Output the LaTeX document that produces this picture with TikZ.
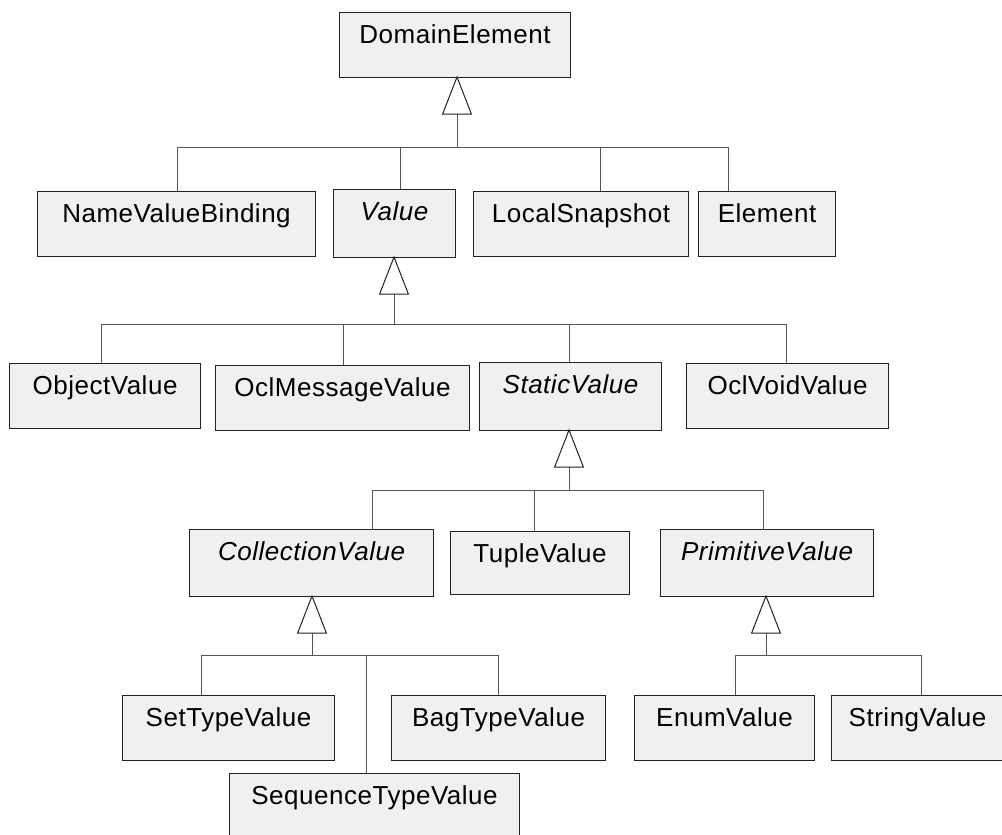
\documentclass[tikz,border=0pt]{standalone}
\usepackage{fontspec}
\setmainfont{Liberation Sans}[LetterSpace=2.0]
\usetikzlibrary{arrows.meta}
\definecolor{boxfill}{HTML}{F0F0F0}
\definecolor{boxline}{HTML}{222222}
\definecolor{connline}{HTML}{555555}
\tikzset{
  umlbox/.style={draw=boxline, line width=1.1pt, fill=boxfill, anchor=north west,
    inner sep=0pt, text height=31pt, text depth=34pt, align=center,
    font=\fontsize{26}{30}\selectfont},
  abstract/.style={font=\fontsize{26}{30}\selectfont\itshape},
  conn/.style={draw=connline, line width=1pt},
  gen/.style={draw=connline, line width=1pt, shorten >=-2.5pt,
    -{Triangle[open, width=30pt, length=39pt, line width=1pt, color=boxline]}},
}
\begin{document}
\begin{tikzpicture}[x=1pt, y=-1pt]
\useasboundingbox (0,0) rectangle (1002,835);
% boxes
\node[umlbox, minimum width=231pt] (de) at (339,12) {DomainElement};
\node[umlbox, minimum width=278pt] (nvb) at (37,191) {NameValueBinding};
\node[umlbox, abstract, minimum width=122pt, text depth=37pt] (val) at (333,189) {Value};
\node[umlbox, minimum width=215pt] (ls) at (473,191) {LocalSnapshot};
\node[umlbox, minimum width=137pt] (el) at (698,191) {Element};
\node[umlbox, minimum width=191pt] (ov) at (9,363) {ObjectValue};
\node[umlbox, minimum width=254pt] (omv) at (215,365) {OclMessageValue};
\node[umlbox, abstract, minimum width=182pt, text depth=37pt] (sv) at (479,362) {StaticValue};
\node[umlbox, minimum width=202pt] (ovv) at (686,363) {OclVoidValue};
\node[umlbox, abstract, minimum width=244pt, text depth=36pt] (cv) at (189,529) {CollectionValue};
\node[umlbox, minimum width=179pt, text depth=32pt] (tv) at (450,531) {TupleValue};
\node[umlbox, abstract, minimum width=213pt, text depth=36pt] (pv) at (660,529) {PrimitiveValue};
\node[umlbox, minimum width=212pt] (stv) at (122,695) {SetTypeValue};
\node[umlbox, minimum width=214pt] (btv) at (391,695) {BagTypeValue};
\node[umlbox, minimum width=290pt, text depth=50pt] (sqv) at (229,773) {SequenceTypeValue};
\node[umlbox, minimum width=180pt] (env) at (634,695) {EnumValue};
\node[umlbox, minimum width=172pt] (strv) at (831,695) {StringValue};
% bus points
\coordinate (b1) at (457,147);
\coordinate (b2) at (394,324);
\coordinate (b3) at (569,490);
\coordinate (b4) at (312,655);
\coordinate (b5) at (766,655);
% level 1
\draw[conn] ([xshift=140pt]nvb.north west) |- (b1);
\draw[conn] ([xshift=67pt]val.north west) |- (b1);
\draw[conn] ([xshift=127pt]ls.north west) |- (b1);
\draw[conn] ([xshift=30pt]el.north west) |- (b1);
\draw[gen] (b1) -- (de.south -| b1);
% level 2
\draw[conn] ([xshift=92pt]ov.north west) |- (b2);
\draw[conn] ([xshift=128pt]omv.north west) |- (b2);
\draw[conn] ([xshift=90pt]sv.north west) |- (b2);
\draw[conn] ([xshift=100pt]ovv.north west) |- (b2);
\draw[gen] (b2) -- (val.south -| b2);
% level 3
\draw[conn] ([xshift=183pt]cv.north west) |- (b3);
\draw[conn] ([xshift=84pt]tv.north west) |- (b3);
\draw[conn] ([xshift=103pt]pv.north west) |- (b3);
\draw[gen] (b3) -- (sv.south -| b3);
% level 4
\draw[conn] ([xshift=79pt]stv.north west) |- (b4);
\draw[conn] ([xshift=137pt]sqv.north west) |- (b4);
\draw[conn] ([xshift=107pt]btv.north west) |- (b4);
\draw[gen] (b4) -- (cv.south -| b4);
% level 5
\draw[conn] ([xshift=101pt]env.north west) |- (b5);
\draw[conn] ([xshift=90pt]strv.north west) |- (b5);
\draw[gen] (b5) -- (pv.south -| b5);
\end{tikzpicture}
\end{document}
